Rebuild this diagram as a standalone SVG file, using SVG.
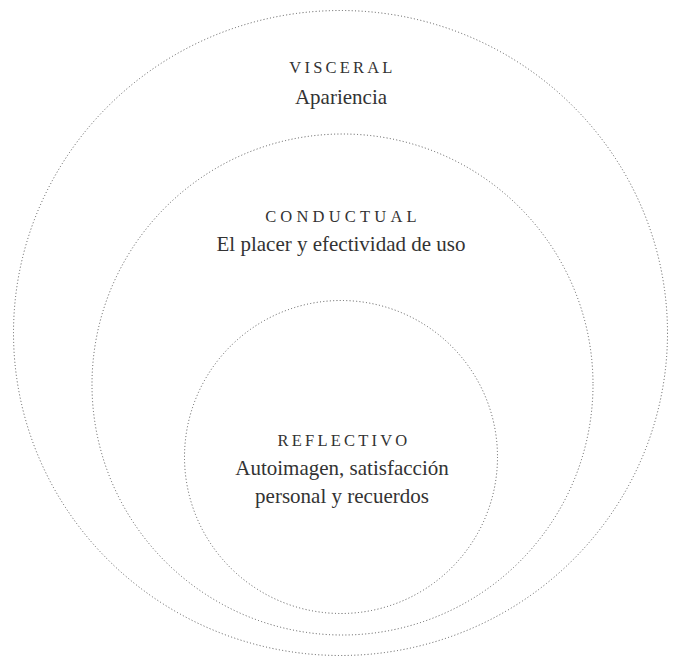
<svg xmlns="http://www.w3.org/2000/svg" width="673" height="657" viewBox="0 0 673 657">
<style>
.ring{fill:none;stroke:#555;stroke-width:1;stroke-dasharray:1 2.3}
.t{font-family:"Liberation Serif",serif;font-size:16.5px;letter-spacing:3.2px;fill:#333;text-anchor:middle}
.s{font-family:"Liberation Serif",serif;font-size:21px;fill:#333;text-anchor:middle}
</style>
<rect width="673" height="657" fill="#fff"/>
<g id="visceral">
<ellipse class="ring" cx="340.5" cy="333" rx="327" ry="322.5"/>
<text class="t" x="342.5" y="73">VISCERAL</text>
<text class="s" x="341" y="104">Apariencia</text>
</g>
<g id="conductual">
<circle class="ring" cx="342.5" cy="384.5" r="250.5"/>
<text class="t" x="343" y="222" style="letter-spacing:4.2px">CONDUCTUAL</text>
<text class="s" x="341" y="251">El placer y efectividad de uso</text>
</g>
<g id="reflectivo">
<circle class="ring" cx="341" cy="457" r="156.5"/>
<text class="t" x="344" y="446">REFLECTIVO</text>
<text class="s" x="342" y="475">Autoimagen, satisfacción</text>
<text class="s" x="342" y="503">personal y recuerdos</text>
</g>
<g id="connectors"/>
</svg>
